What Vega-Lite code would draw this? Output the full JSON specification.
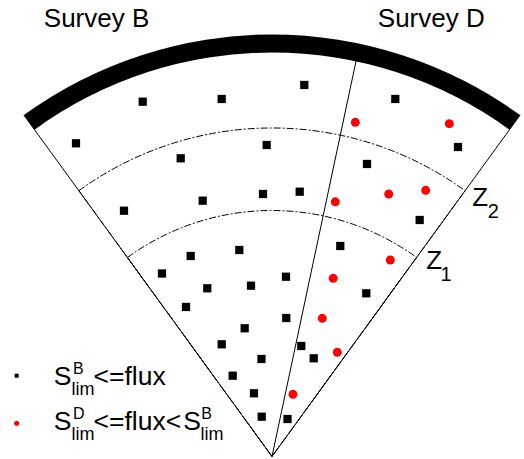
{
  "$schema": "https://vega.github.io/schema/vega-lite/v6.json",
  "width": 524,
  "height": 459,
  "autosize": {"type": "none"},
  "padding": 0,
  "background": "white",
  "config": {"view": {"stroke": null}, "axis": {"disable": true}, "font": "Liberation Sans"},
  "datasets": {
    "shells": [
      {"shell": "z1", "r": 58.85},
      {"shell": "z2", "r": 78.59}
    ],
    "rim": [
      {"boundary": "survey edge", "r_out": 100.96, "r_in": 96.65}
    ],
    "edges": [
      {"edge": "left", "x0": 0, "y0": 0, "x1": -59.37, "y1": 81.71},
      {"edge": "right", "x0": 0, "y0": 0, "x1": 59.37, "y1": 81.71},
      {"edge": "B|D", "x0": 0, "y0": 0, "x1": 20.17, "y1": 94.88}
    ],
    "sources": [
      {"group": "B", "x": -30.93, "y": 84.88},
      {"group": "B", "x": -12.03, "y": 85.53},
      {"group": "B", "x": 7.73, "y": 88.88},
      {"group": "B", "x": 29.5, "y": 85.53},
      {"group": "B", "x": -46.89, "y": 74.93},
      {"group": "B", "x": -21.84, "y": 71.34},
      {"group": "B", "x": -1.27, "y": 74.52},
      {"group": "B", "x": 44.5, "y": 74.04},
      {"group": "B", "x": 22.73, "y": 69.98},
      {"group": "B", "x": -35.41, "y": 58.8},
      {"group": "B", "x": -16.58, "y": 61.2},
      {"group": "B", "x": -2.15, "y": 62.8},
      {"group": "B", "x": 6.63, "y": 63.35},
      {"group": "B", "x": 35.33, "y": 56.58},
      {"group": "B", "x": -19.45, "y": 47.97},
      {"group": "B", "x": -7.82, "y": 49.4},
      {"group": "B", "x": 16.34, "y": 50.36},
      {"group": "B", "x": -26.32, "y": 43.78},
      {"group": "B", "x": 3.35, "y": 43.01},
      {"group": "B", "x": 22.56, "y": 39.04},
      {"group": "B", "x": -15.48, "y": 40.24},
      {"group": "B", "x": -5.02, "y": 40.86},
      {"group": "B", "x": -20.57, "y": 35.77},
      {"group": "B", "x": 3.42, "y": 33.13},
      {"group": "B", "x": -6.53, "y": 30.67},
      {"group": "B", "x": -12.03, "y": 26.84},
      {"group": "B", "x": 7.01, "y": 26.44},
      {"group": "B", "x": -2.51, "y": 23.33},
      {"group": "B", "x": 9.98, "y": 23.49},
      {"group": "B", "x": -9.4, "y": 19.33},
      {"group": "B", "x": -4.31, "y": 15.12},
      {"group": "B", "x": -2.46, "y": 9.52},
      {"group": "B", "x": 3.71, "y": 8.97},
      {"group": "D", "x": 19.93, "y": 79.95},
      {"group": "D", "x": 42.42, "y": 79.62},
      {"group": "D", "x": 15.14, "y": 60.93},
      {"group": "D", "x": 27.92, "y": 62.8},
      {"group": "D", "x": 36.77, "y": 63.68},
      {"group": "D", "x": 28.3, "y": 47.01},
      {"group": "D", "x": 14.64, "y": 42.63},
      {"group": "D", "x": 12.03, "y": 33.06},
      {"group": "D", "x": 15.62, "y": 24.93},
      {"group": "D", "x": 5.02, "y": 14.88}
    ],
    "key": [
      {"group": "B", "x": -61.08, "y": 19.33},
      {"group": "D", "x": -61.08, "y": 7.94}
    ],
    "labels": [
      {"text": "Survey B", "role": "title", "x": -54.59, "y": 102.82},
      {"text": "Survey D", "role": "title", "x": 25.31, "y": 102.82},
      {"text": "Z", "role": "z", "x": 47.89, "y": 60.0},
      {"text": "2", "role": "zsub", "x": 51.6, "y": 56.99},
      {"text": "Z", "role": "z", "x": 36.89, "y": 44.86},
      {"text": "1", "role": "zsub", "x": 40.31, "y": 41.99},
      {"text": "S", "role": "main", "x": -52.2, "y": 17.11},
      {"text": "B", "role": "sup", "x": -47.6, "y": 19.74},
      {"text": "lim", "role": "sub", "x": -47.94, "y": 14.83},
      {"text": "<=flux", "role": "main", "x": -42.7, "y": 17.11},
      {"text": "S", "role": "main", "x": -52.2, "y": 6.34},
      {"text": "D", "role": "sup", "x": -47.6, "y": 8.97},
      {"text": "lim", "role": "sub", "x": -47.94, "y": 3.95},
      {"text": "<=flux<", "role": "main", "x": -42.7, "y": 6.34},
      {"text": "S", "role": "main", "x": -21.22, "y": 6.34},
      {"text": "B", "role": "sup", "x": -16.9, "y": 8.97},
      {"text": "lim", "role": "sub", "x": -17.11, "y": 3.95}
    ]
  },
  "resolve": {"scale": {"size": "independent", "color": "independent", "shape": "independent"}},
  "layer": [
    {
      "data": {"name": "shells"},
      "mark": {"type": "arc", "filled": false, "stroke": "black", "strokeWidth": 1, "strokeDash": [7, 2, 2, 2], "theta": -0.62832, "theta2": 0.62832},
      "encoding": {
        "x": {"datum": 0, "type": "quantitative", "scale": {"domain": [-65.07, 60.29], "nice": false, "zero": false}, "axis": null},
        "y": {"datum": 0, "type": "quantitative", "scale": {"domain": [-0.6, 109.21], "nice": false, "zero": false}, "axis": null},
        "radius": {"field": "r", "type": "quantitative", "stack": null, "scale": {"type": "linear", "domain": [0, 100], "range": [0, 418], "zero": true, "nice": false}}
      }
    },
    {
      "data": {"name": "rim"},
      "mark": {"type": "arc", "color": "black", "theta": -0.62832, "theta2": 0.62832},
      "encoding": {
        "x": {"datum": 0, "type": "quantitative"},
        "y": {"datum": 0, "type": "quantitative"},
        "radius": {"field": "r_out", "type": "quantitative", "stack": null},
        "radius2": {"field": "r_in"}
      }
    },
    {
      "data": {"name": "edges"},
      "mark": {"type": "rule", "color": "black", "strokeWidth": 1},
      "encoding": {
        "x": {"field": "x0", "type": "quantitative"},
        "y": {"field": "y0", "type": "quantitative"},
        "x2": {"field": "x1"},
        "y2": {"field": "y1"}
      }
    },
    {
      "data": {"name": "sources"},
      "mark": {"type": "point", "filled": true, "opacity": 1, "strokeWidth": 0},
      "encoding": {
        "x": {"field": "x", "type": "quantitative"},
        "y": {"field": "y", "type": "quantitative"},
        "shape": {"field": "group", "type": "nominal", "scale": {"domain": ["B", "D"], "range": ["square", "circle"]}, "legend": null},
        "color": {"field": "group", "type": "nominal", "scale": {"domain": ["B", "D"], "range": ["#000000", "#ff0000"]}, "legend": null},
        "size": {"field": "group", "type": "nominal", "scale": {"type": "ordinal", "domain": ["B", "D"], "range": [68, 80]}, "legend": null}
      }
    },
    {
      "data": {"name": "key"},
      "mark": {"type": "point", "filled": true, "opacity": 1, "strokeWidth": 0},
      "encoding": {
        "x": {"field": "x", "type": "quantitative"},
        "y": {"field": "y", "type": "quantitative"},
        "shape": {"field": "group", "type": "nominal", "scale": {"domain": ["B", "D"], "range": ["square", "circle"]}, "legend": null},
        "color": {"field": "group", "type": "nominal", "scale": {"domain": ["B", "D"], "range": ["#000000", "#ff0000"]}, "legend": null},
        "size": {"field": "group", "type": "nominal", "scale": {"type": "ordinal", "domain": ["B", "D"], "range": [16, 26]}, "legend": null}
      }
    },
    {
      "data": {"name": "labels"},
      "mark": {"type": "text", "align": "left", "baseline": "alphabetic", "font": "Liberation Sans", "color": "black"},
      "encoding": {
        "x": {"field": "x", "type": "quantitative"},
        "y": {"field": "y", "type": "quantitative"},
        "text": {"field": "text"},
        "size": {"field": "role", "type": "nominal", "scale": {"type": "ordinal", "domain": ["title", "main", "z", "sup", "sub", "zsub"], "range": [26, 26.5, 26, 16, 18, 20]}, "legend": null}
      }
    }
  ]
}
